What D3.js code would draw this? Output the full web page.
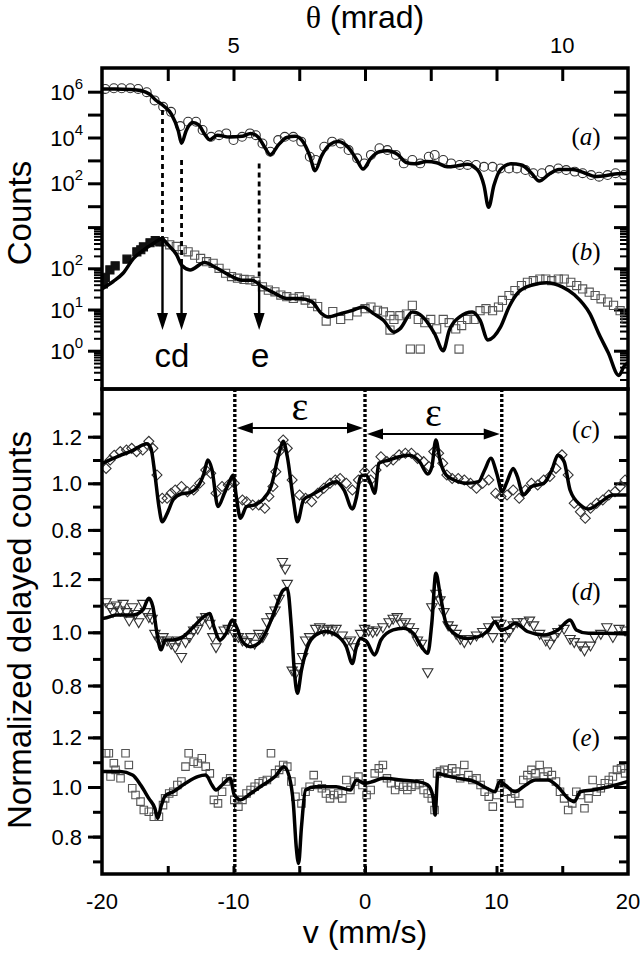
<!DOCTYPE html>
<html>
<head>
<meta charset="utf-8">
<script src="https://cdn.jsdelivr.net/npm/d3@7"></script>
<style>
  body { margin: 0; background: #fff; }
  svg { display: block; }
  text { font-family: "Liberation Sans", Arial, sans-serif; fill: #000; }
</style>
</head>
<body>
<div id="chart"></div>
<script>
// ---------- data ----------
// top panel: theta (mrad) vs log10(counts)
var aFit = [[3.0,6.12],[3.19,6.12],[3.44,6.1],[3.59,6.05],[3.72,5.9],[3.81,5.65],[3.93,5.4],[4.06,5.0],[4.16,4.3],[4.21,3.75],[4.28,4.3],[4.38,4.65],[4.47,4.55],[4.56,4.15],[4.64,3.9],[4.75,4.1],[4.94,4.02],[5.13,4.05],[5.26,4.18],[5.38,4.0],[5.47,3.6],[5.56,3.25],[5.69,3.7],[5.81,4.0],[5.94,4.05],[6.06,3.8],[6.16,3.2],[6.24,2.55],[6.34,3.2],[6.47,3.7],[6.59,3.82],[6.75,3.55],[6.88,3.0],[6.97,2.62],[7.09,3.1],[7.22,3.38],[7.34,3.42],[7.5,3.25],[7.63,2.9],[7.75,2.85],[7.94,2.95],[8.09,2.9],[8.25,2.72],[8.38,2.75],[8.56,2.83],[8.72,2.55],[8.81,1.9],[8.88,0.95],[8.96,1.9],[9.06,2.6],[9.22,2.85],[9.38,2.8],[9.53,2.45],[9.65,2.1],[9.8,2.4],[9.95,2.6],[10.16,2.6],[10.34,2.45],[10.5,2.3],[10.69,2.35],[10.84,2.42],[11.0,2.42]];
var aData = [[3.05,6.12],[3.18,6.15],[3.3,6.15],[3.43,6.15],[3.55,6.12],[3.68,5.98],[3.8,5.62],[3.93,5.34],[4.05,5.12],[4.19,4.5],[4.31,4.69],[4.43,4.69],[4.53,4.33],[4.66,4.03],[4.78,4.1],[4.89,4.18],[5.0,3.89],[5.13,4.03],[5.25,4.18],[5.34,4.1],[5.44,3.74],[5.56,3.38],[5.68,3.89],[5.78,4.03],[5.91,4.03],[6.03,3.82],[6.16,3.16],[6.25,3.02],[6.38,3.6],[6.5,3.82],[6.63,3.74],[6.75,3.45],[6.88,3.09],[6.99,2.87],[7.09,3.24],[7.22,3.53],[7.34,3.45],[7.47,3.24],[7.59,2.87],[7.72,3.02],[7.84,2.87],[7.97,3.16],[8.06,3.24],[8.19,3.02],[8.31,2.87],[8.44,2.8],[8.56,2.8],[8.69,2.8],[8.81,2.72],[8.94,2.72],[9.06,2.65],[9.19,2.65],[9.31,2.65],[9.44,2.58],[9.56,2.44],[9.69,2.44],[9.81,2.58],[9.94,2.65],[10.06,2.58],[10.19,2.51],[10.31,2.44],[10.44,2.36],[10.56,2.29],[10.69,2.36],[10.81,2.44],[10.94,2.36]];
var bFit = [[3.0,1.5],[3.05,1.55],[3.17,1.68],[3.32,1.88],[3.48,2.24],[3.63,2.44],[3.78,2.6],[3.91,2.72],[4.0,2.58],[4.13,2.34],[4.22,2.06],[4.34,1.96],[4.56,2.14],[4.75,2.0],[4.94,1.83],[5.13,1.71],[5.28,1.71],[5.44,1.55],[5.63,1.39],[5.81,1.27],[6.0,1.27],[6.19,1.19],[6.34,0.9],[6.44,0.82],[6.63,0.9],[6.81,0.98],[6.97,1.06],[7.13,0.9],[7.28,0.74],[7.44,0.45],[7.53,0.53],[7.72,0.94],[7.88,0.82],[8.06,0.41],[8.19,0.0],[8.28,0.49],[8.44,0.82],[8.63,0.94],[8.75,0.74],[8.87,0.26],[9.06,0.57],[9.19,1.06],[9.34,1.43],[9.56,1.6],[9.76,1.65],[10.0,1.55],[10.19,1.35],[10.42,0.9],[10.56,0.4],[10.7,-0.05],[10.86,-0.6],[10.95,-0.35],[11.0,-0.3]];
var bDataFilled = [[3.02,1.62],[3.05,1.78],[3.12,1.96],[3.2,2.06],[3.38,2.22],[3.53,2.4],[3.59,2.45],[3.63,2.52],[3.73,2.62],[3.81,2.67],[3.88,2.64]];
var bData = [[3.94,2.65],[4.03,2.57],[4.13,2.53],[4.22,2.45],[4.31,2.4],[4.41,2.32],[4.5,2.24],[4.59,2.16],[4.69,2.12],[4.78,2.0],[4.88,1.88],[4.97,1.8],[5.06,1.76],[5.16,1.73],[5.25,1.72],[5.34,1.68],[5.44,1.55],[5.53,1.47],[5.63,1.43],[5.72,1.35],[5.81,1.31],[5.91,1.27],[6.0,1.31],[6.09,1.23],[6.19,1.15],[6.28,1.07],[6.41,0.72],[6.51,0.95],[6.63,0.76],[6.75,0.85],[6.88,0.94],[7.0,1.02],[7.09,1.06],[7.19,0.98],[7.28,0.94],[7.38,0.85],[7.44,0.76],[7.53,0.85],[7.63,0.89],[7.72,1.1],[7.81,0.76],[7.91,0.68],[8.0,0.76],[8.09,0.53],[8.19,0.76],[8.28,0.68],[8.38,0.53],[8.47,0.61],[8.56,0.76],[8.66,0.76],[8.75,0.97],[8.84,1.02],[8.94,0.97],[9.03,1.06],[9.09,1.22],[9.19,1.34],[9.28,1.46],[9.38,1.58],[9.47,1.66],[9.56,1.7],[9.66,1.74],[9.75,1.74],[9.84,1.7],[9.94,1.74],[10.03,1.74],[10.13,1.66],[10.22,1.58],[10.31,1.5],[10.41,1.42],[10.5,1.34],[10.59,1.26],[10.69,1.18],[10.78,1.1],[10.88,0.97],[10.97,0.76],[7.69,0.04],[7.84,0.04],[8.43,0.04],[7.38,0.5]];

// lower panels: v (mm/s) vs normalized delayed counts
var cFit = [[-20,1.085],[-19.69,1.093],[-18.61,1.12],[-17.68,1.14],[-16.9,1.165],[-16.59,1.17],[-16.28,1.15],[-15.98,1.04],[-15.67,0.9],[-15.42,0.835],[-15.05,0.87],[-14.58,0.93],[-13.96,0.955],[-13.34,0.96],[-12.72,0.985],[-12.26,1.04],[-11.95,1.1],[-11.64,1.06],[-11.18,0.9],[-10.71,0.955],[-10.25,1.015],[-10.03,1.035],[-9.78,0.94],[-9.47,0.85],[-9.01,0.9],[-8.39,0.907],[-7.77,0.93],[-7.15,0.985],[-6.53,1.13],[-6.22,1.18],[-5.91,1.115],[-5.45,0.93],[-5.14,0.835],[-4.67,0.93],[-4.06,0.95],[-3.44,0.97],[-2.82,0.993],[-2.2,1.007],[-1.58,0.97],[-0.96,0.89],[-0.65,0.94],[-0.34,1.03],[0.06,1.036],[0.43,1.0],[0.74,0.957],[1.05,1.086],[1.83,1.1],[2.6,1.114],[3.37,1.12],[4.15,1.093],[4.77,1.04],[5.08,1.07],[5.39,1.186],[5.7,1.1],[6.16,1.036],[6.78,1.014],[7.71,1.0],[8.64,1.007],[9.1,1.057],[9.57,1.107],[10.03,1.04],[10.43,0.964],[10.8,1.007],[11.27,1.064],[11.58,1.03],[12.04,0.95],[12.66,0.986],[13.59,1.0],[14.21,1.057],[14.67,1.12],[15.14,1.093],[15.6,0.97],[16.38,0.907],[17.0,0.89],[17.93,0.92],[18.85,0.95],[20,0.95]];
var cData = [[-19.69,1.064],[-19.38,1.1],[-19.07,1.12],[-18.61,1.136],[-18.14,1.143],[-17.74,1.15],[-17.37,1.136],[-16.9,1.143],[-16.44,1.18],[-16.13,1.15],[-15.82,1.036],[-15.42,0.936],[-15.05,0.936],[-14.74,0.957],[-14.43,0.971],[-13.96,0.986],[-13.5,0.964],[-13.03,0.971],[-12.57,1.0],[-12.11,1.057],[-11.73,1.043],[-11.33,0.957],[-10.87,0.986],[-10.4,0.993],[-9.94,1.0],[-9.32,0.928],[-9.01,0.921],[-8.54,0.907],[-8.08,0.907],[-7.62,0.893],[-7.31,0.943],[-7.0,0.986],[-6.78,1.05],[-6.53,1.136],[-6.22,1.186],[-5.91,1.15],[-5.54,1.014],[-4.98,0.95],[-4.52,0.936],[-4.06,0.921],[-3.59,0.957],[-3.13,0.979],[-2.66,1.0],[-2.26,1.014],[-1.89,1.021],[-1.42,1.0],[-0.96,0.971],[-0.5,1.014],[-0.03,1.05],[0.43,1.014],[0.84,1.057],[1.21,1.114],[1.67,1.093],[2.14,1.1],[2.6,1.122],[3.07,1.129],[3.53,1.129],[4.0,1.107],[4.46,1.093],[4.86,1.072],[5.23,1.136],[5.6,1.129],[5.91,1.086],[6.22,1.036],[6.63,1.021],[7.09,1.021],[7.55,1.014],[8.02,1.0],[8.48,0.979],[8.95,1.0],[9.41,1.014],[9.94,0.957],[10.34,0.943],[10.8,0.95],[11.27,0.971],[11.73,0.936],[12.2,0.971],[12.66,1.0],[13.13,0.993],[13.59,1.014],[14.06,1.029],[14.52,1.064],[14.98,1.122],[15.45,1.036],[15.91,0.914],[16.38,0.878],[16.75,0.85],[17.15,0.893],[17.62,0.914],[18.08,0.928],[18.54,0.95],[19.01,0.964],[19.41,0.986],[19.78,1.014]];
var dFit = [[-20,1.053],[-19.85,1.053],[-18.92,1.065],[-17.68,1.065],[-16.9,1.084],[-16.44,1.128],[-16.13,1.096],[-15.82,0.996],[-15.51,0.934],[-15.2,0.971],[-14.58,0.971],[-13.81,0.984],[-13.03,1.021],[-12.26,1.059],[-11.8,1.071],[-11.49,1.021],[-11.02,0.971],[-10.56,0.996],[-10.09,1.046],[-9.78,1.021],[-9.32,0.965],[-8.7,0.946],[-8.08,0.959],[-7.46,1.009],[-6.84,1.084],[-6.22,1.159],[-5.91,1.165],[-5.6,1.021],[-5.36,0.846],[-5.14,0.771],[-4.83,0.858],[-4.37,0.946],[-3.75,0.99],[-2.97,1.003],[-2.2,0.99],[-1.42,0.946],[-0.96,0.883],[-0.65,0.946],[-0.34,0.977],[0.12,0.965],[0.74,0.915],[1.21,0.971],[2.14,1.009],[2.91,1.015],[3.68,0.996],[4.3,0.946],[4.77,0.921],[5.08,1.034],[5.39,1.222],[5.7,1.147],[6.16,1.034],[6.78,0.996],[7.71,0.977],[8.64,0.984],[9.41,1.009],[9.88,1.04],[10.34,1.009],[10.8,1.015],[11.42,1.034],[12.35,1.003],[13.59,0.99],[14.67,1.009],[15.6,1.046],[16.07,1.009],[17.0,0.996],[18.24,0.996],[20,0.994]];
var dData = [[-19.69,1.115],[-19.38,1.096],[-19.16,1.078],[-18.92,1.103],[-18.61,1.084],[-18.39,1.109],[-18.14,1.078],[-17.93,1.046],[-17.68,1.096],[-17.46,1.071],[-17.21,1.04],[-16.9,1.109],[-16.69,1.078],[-16.44,1.059],[-16.19,1.053],[-15.98,0.996],[-15.67,0.971],[-15.36,0.984],[-15.05,0.971],[-14.74,0.959],[-14.43,0.946],[-14.21,0.971],[-13.96,0.909],[-13.65,0.965],[-13.34,0.984],[-13.03,1.009],[-12.72,1.015],[-12.41,1.046],[-12.11,1.059],[-11.8,1.034],[-11.58,0.984],[-11.33,0.946],[-11.02,0.984],[-10.71,1.009],[-10.4,1.015],[-9.94,0.996],[-9.63,0.984],[-9.32,0.971],[-9.01,0.965],[-8.7,0.984],[-8.39,0.959],[-8.08,0.996],[-7.77,0.984],[-7.46,1.04],[-7.15,1.059],[-6.84,1.084],[-6.53,1.128],[-6.28,1.266],[-6.07,1.241],[-5.91,1.184],[-5.54,0.858],[-5.29,0.846],[-5.05,0.871],[-4.74,0.909],[-4.52,0.971],[-4.21,0.984],[-3.75,1.015],[-3.44,1.021],[-3.13,1.009],[-2.82,1.015],[-2.51,1.009],[-2.2,1.015],[-1.73,0.99],[-1.42,0.965],[-1.11,0.971],[-0.8,0.946],[-0.34,0.996],[-0.03,1.015],[0.28,1.009],[0.59,1.003],[0.9,1.009],[1.36,1.021],[1.83,1.04],[2.14,1.053],[2.45,1.059],[2.76,1.034],[3.07,1.04],[3.37,1.021],[3.68,1.003],[3.99,0.971],[4.3,0.959],[4.77,0.852],[5.08,1.096],[5.39,1.147],[5.7,1.122],[6.01,1.078],[6.32,1.028],[6.63,1.015],[6.93,0.996],[7.24,0.977],[7.55,0.965],[8.02,0.977],[8.48,0.99],[8.95,1.003],[9.41,1.021],[9.72,0.984],[10.03,1.046],[10.34,1.034],[10.65,0.984],[10.96,1.003],[11.27,1.028],[11.58,1.04],[12.04,1.04],[12.51,1.046],[12.82,1.028],[13.28,0.996],[13.75,0.971],[14.06,0.959],[14.37,0.984],[14.67,1.003],[15.14,1.015],[15.6,0.977],[15.91,0.965],[16.38,0.952],[16.69,0.934],[17.15,0.952],[17.46,0.984],[17.93,0.996],[18.39,1.021],[18.85,0.984],[19.32,1.015],[19.78,1.009]];
var eFit = [[-20,1.062],[-19.85,1.062],[-18.61,1.062],[-17.68,1.048],[-17.06,1.008],[-16.44,0.954],[-15.98,0.914],[-15.76,0.874],[-15.51,0.921],[-15.2,0.964],[-14.58,0.981],[-13.65,1.015],[-12.72,1.042],[-12.11,1.048],[-11.64,1.008],[-11.33,0.988],[-10.87,1.008],[-10.25,1.035],[-9.94,0.968],[-9.47,0.948],[-8.7,0.974],[-7.77,1.008],[-6.84,1.042],[-6.16,1.082],[-5.76,1.042],[-5.45,0.934],[-5.23,0.759],[-5.05,0.692],[-4.83,0.84],[-4.52,0.988],[-3.75,1.001],[-2.2,1.001],[-1.11,0.988],[-0.65,1.028],[-0.03,1.015],[0.59,1.022],[1.36,1.035],[2.76,1.028],[3.99,1.022],[4.77,1.008],[5.17,0.961],[5.33,0.887],[5.54,1.055],[6.01,1.048],[7.09,1.035],[8.33,1.022],[9.26,0.995],[9.88,0.981],[10.25,1.022],[10.65,1.008],[11.42,0.981],[12.04,1.001],[12.97,1.028],[13.9,1.028],[14.67,1.001],[15.45,0.954],[15.91,0.941],[16.38,0.981],[17.31,0.988],[18.54,1.001],[20,1.022]];
var eData = [[-19.69,1.136],[-19.48,1.136],[-19.35,1.042],[-19.1,1.096],[-18.97,1.069],[-18.59,1.035],[-18.21,1.136],[-17.96,1.089],[-17.7,0.995],[-17.45,0.968],[-17.07,0.941],[-16.82,0.907],[-16.44,0.9],[-16.06,0.88],[-15.67,0.88],[-15.36,0.927],[-15.2,0.954],[-14.89,0.974],[-14.58,0.981],[-14.27,1.008],[-13.96,1.022],[-13.65,1.082],[-13.41,1.136],[-13.03,1.102],[-12.72,1.095],[-12.41,1.116],[-12.11,1.082],[-11.8,1.055],[-11.49,0.948],[-11.18,0.934],[-10.87,0.981],[-10.56,1.022],[-10.25,1.035],[-9.94,0.948],[-9.63,0.921],[-9.32,0.948],[-9.01,0.974],[-8.7,0.988],[-8.39,1.001],[-8.08,1.015],[-7.77,1.022],[-7.46,1.028],[-7.15,1.136],[-6.84,1.055],[-6.53,1.069],[-6.22,1.089],[-5.91,1.082],[-5.6,1.022],[-5.29,0.961],[-4.83,0.934],[-4.52,0.981],[-4.21,1.001],[-3.9,1.048],[-3.59,1.008],[-3.28,0.995],[-2.97,0.974],[-2.66,0.954],[-2.35,0.968],[-2.04,0.974],[-1.73,0.954],[-1.42,1.028],[-1.11,0.988],[-0.8,1.022],[-0.5,1.042],[-0.19,1.008],[0.12,0.968],[0.43,0.988],[0.74,1.055],[1.05,1.075],[1.36,1.089],[1.67,1.035],[1.98,1.015],[2.29,0.988],[2.6,1.008],[2.91,1.001],[3.22,0.988],[3.53,1.001],[3.84,1.008],[4.15,1.015],[4.46,0.988],[4.77,0.974],[5.08,0.954],[5.29,0.907],[5.48,1.055],[5.7,1.062],[6.01,1.069],[6.32,1.055],[6.63,1.075],[6.93,1.062],[7.24,1.035],[7.55,1.089],[7.86,1.048],[8.17,1.028],[8.48,1.035],[8.79,1.008],[9.1,0.981],[9.41,0.961],[9.72,0.921],[10.03,0.968],[10.34,1.015],[10.8,0.981],[11.11,0.954],[11.42,0.974],[11.73,0.934],[12.04,1.028],[12.35,1.048],[12.66,1.069],[12.97,1.055],[13.28,1.089],[13.59,1.042],[13.9,1.062],[14.21,1.048],[14.52,1.022],[14.83,0.981],[15.14,0.954],[15.45,0.907],[15.76,0.934],[16.07,0.981],[16.38,0.968],[16.69,0.914],[17.0,0.954],[17.31,1.028],[17.62,0.981],[17.93,0.995],[18.24,1.015],[18.54,1.028],[18.85,1.042],[19.16,1.069],[19.47,1.075],[19.78,1.055]];

// axes and annotations
var thetaTicks = [4, 5, 6, 7, 8, 9, 10];
var thetaLabels = [5, 10];
var vTicks = [-15, -10, -5, 0, 5, 10, 15];
var vLabels = [-20, -10, 0, 10, 20];
var aTicks = [1, 2, 3, 4, 5, 6];        // log10 positions with ticks
var aLabels = [2, 4, 6];
var bLabels = [0, 1, 2];
var normTicksC = [0.7, 0.8, 0.9, 1.0, 1.1, 1.2, 1.3];
var normTicksDE = [0.7, 0.8, 0.9, 1.0, 1.1, 1.2];
var normLabels = [0.8, 1.0, 1.2];
var vLines = [-9.9, 0, 10.4];             // dotted markers
var epsSpans = [[-9.9, 0], [0, 10.4]];
var arrowTheta = [3.92, 4.21, 5.39];      // c, d, e
var arrowTopA = [5.2, 3.02, 2.87];        // log10 counts where dashes start (a scale)
var arrowMidB = [2.68, 2.1, 1.68];        // log10 counts where solid arrow starts (b scale)
var arrowTipB = 0.5;
var panelNames = ["(a)", "(b)", "(c)", "(d)", "(e)"];

// ---------- layout ----------
var width = 640, height = 953;
var L = 102, R = 628, T = 68, MID = 389, B = 874;

var svg = d3.select("#chart").append("svg")
  .attr("width", width)
  .attr("height", height);

var xT = d3.scaleLinear().domain([3, 11]).range([L, R]);
var xV = d3.scaleLinear().domain([-20, 20]).range([L, R]);
var yA = d3.scaleLog().domain([1, 1e7]).range([229.1, 68.8]);
var yB = d3.scaleLog().domain([0.1, 1000]).range([391.9, 227.1]);
var yC = d3.scaleLinear().domain([0.7, 1.3]).range([553.2, 413.4]);
var yD = d3.scaleLinear().domain([0.7, 1.2]).range([712.1, 579.1]);
var yE = d3.scaleLinear().domain([0.7, 1.2]).range([861.4, 737.4]);

var p10 = function(e) { return Math.pow(10, e); };

var defs = svg.append("defs");
defs.append("clipPath").attr("id", "clipTop")
  .append("rect").attr("x", L).attr("y", T).attr("width", R - L).attr("height", MID - T);
defs.append("clipPath").attr("id", "clipBot")
  .append("rect").attr("x", L).attr("y", MID).attr("width", R - L).attr("height", B - MID);

// ---------- ticks ----------
function styleAxis(g, w) {
  g.select(".domain").remove();
  g.selectAll("line").attr("stroke", "#000").attr("stroke-width", w || 3);
}

// top theta axis (ticks inward)
svg.append("g").attr("transform", "translate(0," + T + ")")
  .call(d3.axisBottom(xT).tickValues(thetaTicks).tickSize(13).tickFormat(""))
  .call(styleAxis);
// bottom v axis (ticks inward)
svg.append("g").attr("transform", "translate(0," + B + ")")
  .call(d3.axisTop(xV).tickValues(vTicks).tickSize(8).tickFormat(""))
  .call(styleAxis);

// y ticks: left outward, right inward (both point left)
function yTicks(scale, vals, len, w) {
  [L, R].forEach(function(x) {
    svg.append("g").attr("transform", "translate(" + x + ",0)")
      .call(d3.axisLeft(scale).tickValues(vals).tickSize(len).tickFormat(""))
      .call(styleAxis, w);
  });
}
yTicks(yA, aTicks.map(p10), 14, 3);
var bMinor = [];
[-1, 0, 1, 2].forEach(function(k) {
  for (var m = 2; m <= 9; m++) {
    var v = m * p10(k);
    if (yB(v) < MID - 1) bMinor.push(v);
  }
});
yTicks(yB, bMinor, 8, 2);
yTicks(yB, [1, 10, 100, 1000], 14, 3);
yTicks(yC, normTicksC, 9, 3);
yTicks(yC, normLabels, 14, 3);
yTicks(yD, normTicksDE, 9, 3);
yTicks(yD, normLabels, 14, 3);
yTicks(yE, normTicksDE, 9, 3);
yTicks(yE, normLabels, 14, 3);

// ---------- tick labels ----------
svg.selectAll(".thLab").data(thetaLabels).enter().append("text")
  .attr("x", function(d) { return xT(d); }).attr("y", 53)
  .attr("text-anchor", "middle").style("font-size", "22px")
  .text(function(d) { return d; });

svg.selectAll(".vLab").data(vLabels).enter().append("text")
  .attr("x", function(d) { return xV(d); }).attr("y", 909)
  .attr("text-anchor", "middle").style("font-size", "22px")
  .text(function(d) { return d; });

function powLabels(scale, exps) {
  exps.forEach(function(e) {
    var t = svg.append("text").attr("x", 83).attr("y", scale(p10(e)) + 8)
      .attr("text-anchor", "end").style("font-size", "22px");
    t.append("tspan").text("10");
    t.append("tspan").attr("dy", -11).style("font-size", "15px").text(e);
  });
}
powLabels(yA, aLabels);
powLabels(yB, bLabels);

[yC, yD, yE].forEach(function(s) {
  svg.selectAll(null).data(normLabels).enter().append("text")
    .attr("x", 82).attr("y", function(d) { return s(d) + 8; })
    .attr("text-anchor", "end").style("font-size", "22px")
    .text(function(d) { return d.toFixed(1); });
});

// ---------- axis titles ----------
var thTitle = svg.append("text").attr("x", 365).attr("y", 28).attr("text-anchor", "middle")
  .style("font-size", "32px");
thTitle.append("tspan").style("font-family", "'Liberation Serif', 'Times New Roman', serif").text("\u03b8");
thTitle.append("tspan").text(" (mrad)");
svg.append("text").attr("x", 365).attr("y", 943).attr("text-anchor", "middle")
  .style("font-size", "32px").text("v (mm/s)");
svg.append("text").attr("transform", "translate(31,213) rotate(-90)")
  .attr("text-anchor", "middle").style("font-size", "33px").text("Counts");
svg.append("text").attr("transform", "translate(31,630) rotate(-90)")
  .attr("text-anchor", "middle").style("font-size", "33px").text("Normalized delayed counts");

// ---------- markers ----------
function markers(g, data, sx, sy, type, size, rot, stroke, fill) {
  var sym = d3.symbol().type(type).size(size);
  g.selectAll(null).data(data).enter().append("path")
    .attr("d", sym)
    .attr("transform", function(d) {
      return "translate(" + sx(d[0]) + "," + sy(d[1]) + ")" + (rot ? " rotate(" + rot + ")" : "");
    })
    .attr("fill", fill || "none")
    .attr("stroke", stroke)
    .attr("stroke-width", 1.1);
}

var gTop = svg.append("g").attr("clip-path", "url(#clipTop)");
var gBot = svg.append("g").attr("clip-path", "url(#clipBot)");

var yAl = function(v) { return yA(p10(v)); };
var yBl = function(v) { return yB(p10(v)); };

markers(gTop, aData, xT, yAl, d3.symbolCircle, 62, 0, "#333");
markers(gTop, bData, xT, yBl, d3.symbolSquare, 66, 0, "#555");
markers(gTop, bDataFilled, xT, yBl, d3.symbolSquare, 66, 0, "#111", "#111");
markers(gBot, cData, xV, yC, d3.symbolSquare, 50, 45, "#333");
markers(gBot, dData, xV, yD, d3.symbolTriangle, 46, 180, "#333");
markers(gBot, eData, xV, yE, d3.symbolSquare, 56, 0, "#555");

// ---------- fitted curves ----------
function curve(g, data, sx, sy) {
  var line = d3.line()
    .x(function(d) { return sx(d[0]); })
    .y(function(d) { return sy(d[1]); })
    .curve(d3.curveMonotoneX);
  g.append("path").datum(data).attr("d", line)
    .attr("fill", "none").attr("stroke", "#000")
    .attr("stroke-width", 3.5).attr("stroke-linejoin", "round");
}
curve(gTop, aFit, xT, yAl);
curve(gTop, bFit, xT, yBl);
curve(gBot, cFit, xV, yC);
curve(gBot, dFit, xV, yD);
curve(gBot, eFit, xV, yE);

// ---------- dotted velocity markers ----------
svg.selectAll(".vline").data(vLines).enter().append("line")
  .attr("x1", function(d) { return xV(d); }).attr("x2", function(d) { return xV(d); })
  .attr("y1", MID).attr("y2", B)
  .attr("stroke", "#000").attr("stroke-width", 3.4)
  .attr("stroke-dasharray", "3,2");

// epsilon double arrows
var epsY = [428, 434];
function arrowHead(x, y, dir, len, half) {
  // dir: "left", "right", "down"
  var p;
  if (dir === "left") p = [[x, y], [x + len, y - half], [x + len, y + half]];
  else if (dir === "right") p = [[x, y], [x - len, y - half], [x - len, y + half]];
  else p = [[x, y], [x - half, y - len], [x + half, y - len]];
  svg.append("path").attr("d", "M" + p.join("L") + "Z").attr("fill", "#000");
}
epsSpans.forEach(function(s, i) {
  var x1 = xV(s[0]) + 2, x2 = xV(s[1]) - 2, y = epsY[i];
  svg.append("line").attr("x1", x1 + 10).attr("x2", x2 - 10).attr("y1", y).attr("y2", y)
    .attr("stroke", "#000").attr("stroke-width", 2.2);
  arrowHead(x1, y, "left", 16, 5.5);
  arrowHead(x2, y, "right", 16, 5.5);
  svg.append("text").attr("x", (x1 + x2) / 2).attr("y", y - 8)
    .attr("text-anchor", "middle")
    .style("font-family", "'Liberation Serif', 'Times New Roman', serif")
    .style("font-size", "40px").text("\u03b5");
});

// c, d, e arrows
arrowTheta.forEach(function(t, i) {
  var x = xT(t);
  svg.append("line").attr("x1", x).attr("x2", x)
    .attr("y1", yAl(arrowTopA[i])).attr("y2", yBl(arrowMidB[i]))
    .attr("stroke", "#000").attr("stroke-width", 2.8).attr("stroke-dasharray", "5,4");
  var tip = yBl(arrowTipB);
  svg.append("line").attr("x1", x).attr("x2", x)
    .attr("y1", yBl(arrowMidB[i])).attr("y2", tip - 14)
    .attr("stroke", "#000").attr("stroke-width", 2.4);
  arrowHead(x, tip, "down", 17, 5.5);
});
svg.append("text").attr("x", (xT(arrowTheta[0]) + xT(arrowTheta[1])) / 2).attr("y", 367)
  .attr("text-anchor", "middle").style("font-size", "33px").text("cd");
svg.append("text").attr("x", xT(arrowTheta[2]) + 1).attr("y", 367)
  .attr("text-anchor", "middle").style("font-size", "33px").text("e");

// ---------- panel labels ----------
var labelY = [145, 260, 438, 600, 746];
panelNames.forEach(function(n, i) {
  var t = svg.append("text").attr("x", 586).attr("y", labelY[i])
    .attr("text-anchor", "middle")
    .style("font-family", "'Liberation Serif', 'Times New Roman', serif")
    .style("font-size", "25px");
  t.append("tspan").text("(");
  t.append("tspan").style("font-style", "italic").text(n.charAt(1));
  t.append("tspan").text(")");
});

// ---------- frames ----------
svg.append("rect").attr("x", L).attr("y", T).attr("width", R - L).attr("height", MID - T)
  .attr("fill", "none").attr("stroke", "#000").attr("stroke-width", 3.5);
svg.append("rect").attr("x", L).attr("y", MID).attr("width", R - L).attr("height", B - MID)
  .attr("fill", "none").attr("stroke", "#000").attr("stroke-width", 3.5);
</script>
</body>
</html>
